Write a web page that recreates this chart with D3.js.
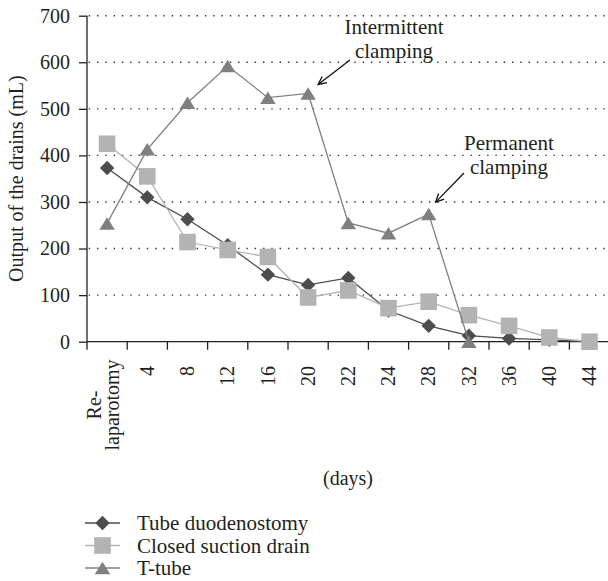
<!DOCTYPE html>
<html>
<head>
<meta charset="utf-8">
<script src="https://cdn.jsdelivr.net/npm/d3@7"></script>
<style>
  body { margin: 0; background: #fff; }
  svg { display: block; }
  text { font-family: "Liberation Serif", "Times New Roman", serif; fill: #231f20; }
</style>
</head>
<body>
<svg id="chart" width="608" height="581"></svg>
<script>
// drain output per day
const categories = ['Re-laparotomy', '4', '8', '12', '16', '20', '22', '24', '28', '32', '36', '40', '44'];
const tubeDuodenostomy = [373, 310, 263, 207, 144, 122, 137, 67, 34, 13, 7, 4, 0];
const closedSuctionDrain = [425, 355, 214, 197, 182, 95, 110, 72, 86, 57, 34, 9, 0];
const tTube = [254, 413, 513, 592, 524, 533, 255, 233, 274, 0]; // stops at day 32
const yTicks = [0, 100, 200, 300, 400, 500, 600, 700];
const seriesNames = ['Tube duodenostomy', 'Closed suction drain', 'T-tube'];

const svg = d3.select('#chart');
const ink = '#231f20';

const x = d3.scaleBand()
  .domain(categories)
  .range([87, 87 + 13 * 40.2])
  .padding(0);
const y = d3.scaleLinear()
  .domain([0, 700])
  .range([341.7, 15.7]);
const cx = c => x(c) + x.bandwidth() / 2;

// dotted gridlines
svg.append('g')
  .selectAll('line')
  .data(yTicks.filter(d => d > 0))
  .join('line')
  .attr('x1', 87).attr('x2', 608)
  .attr('y1', d => y(d)).attr('y2', d => y(d))
  .attr('stroke', '#333')
  .attr('stroke-width', 1.4)
  .attr('stroke-dasharray', '1.4 6.9')
  .attr('stroke-dashoffset', -10);

// y axis
const yAxis = svg.append('g')
  .attr('transform', 'translate(87,0)')
  .call(d3.axisLeft(y).tickValues(yTicks).tickSize(8).tickPadding(9));
yAxis.select('.domain').attr('stroke', ink).attr('stroke-width', 1.3).attr('d', `M0,${y(700)}V${y(0) + 8}`);
yAxis.selectAll('.tick line').attr('stroke', ink).attr('stroke-width', 1.3);
yAxis.selectAll('.tick text')
  .style('font-family', '"Liberation Serif", serif')
  .style('font-size', '20px')
  .attr('fill', ink);

// x axis: ticks sit on the band edges
const xAxis = svg.append('g');
xAxis.append('line')
  .attr('x1', x.range()[0]).attr('x2', x.range()[1])
  .attr('y1', y(0)).attr('y2', y(0))
  .attr('stroke', ink).attr('stroke-width', 1.3);
xAxis.selectAll('line.tk')
  .data(categories.slice(1))
  .join('line')
  .attr('class', 'tk')
  .attr('x1', d => x(d)).attr('x2', d => x(d))
  .attr('y1', y(0)).attr('y2', y(0) + 8)
  .attr('stroke', ink).attr('stroke-width', 1.3);

xAxis.selectAll('text.lbl')
  .data(categories.slice(1))
  .join('text')
  .attr('class', 'lbl')
  .attr('transform', d => `translate(${cx(d)},366) rotate(-90)`)
  .attr('text-anchor', 'end')
  .attr('dy', '0.33em')
  .style('font-size', '20px')
  .text(d => d);

// first category label is split over two lines
const first = categories[0].split(/(?<=-)/);
const firstLbl = xAxis.append('text')
  .attr('transform', `translate(${cx(categories[0])},405) rotate(-90)`)
  .attr('text-anchor', 'middle')
  .style('font-size', '20px');
firstLbl.selectAll('tspan')
  .data(first)
  .join('tspan')
  .attr('x', 0)
  .attr('y', (d, i) => i === 0 ? -6 : 12)
  .text(d => d);

// axis titles
svg.append('text')
  .attr('transform', `translate(23,${(y(0) + y(700)) / 2}) rotate(-90)`)
  .attr('text-anchor', 'middle')
  .style('font-size', '20px')
  .text('Output of the drains (mL)');

svg.append('text')
  .attr('x', 348).attr('y', 485)
  .attr('text-anchor', 'middle')
  .style('font-size', '20px')
  .text('(days)');

// markers
const diamondPath = s => `M0,${-s}L${s},0L0,${s}L${-s},0Z`;
const squarePath = s => `M${-s},${-s}H${s}V${s}H${-s}Z`;
const trianglePath = (w, h) => `M0,${-h / 2}L${w / 2},${h / 2}L${-w / 2},${h / 2}Z`;

const series = [
  { name: seriesNames[0], values: tubeDuodenostomy, color: '#4d4d4d', line: '#4d4d4d', shape: diamondPath(7.2) },
  { name: seriesNames[1], values: closedSuctionDrain, color: '#b3b3b3', line: '#b3b3b3', shape: squarePath(8.3) },
  { name: seriesNames[2], values: tTube, color: '#7f7f7f', line: '#808080', shape: trianglePath(15.5, 12.5) }
];

const line = d3.line()
  .x(d => cx(d.cat))
  .y(d => y(d.v));

series.forEach(s => {
  const pts = s.values.map((v, i) => ({ cat: categories[i], v }));
  const g = svg.append('g');
  g.append('path')
    .datum(pts)
    .attr('d', line)
    .attr('fill', 'none')
    .attr('stroke', s.line)
    .attr('stroke-width', 1.3);
  g.selectAll('path.mk')
    .data(pts)
    .join('path')
    .attr('class', 'mk')
    .attr('transform', d => `translate(${cx(d.cat)},${y(d.v)})`)
    .attr('d', s.shape)
    .attr('fill', s.color);
});

// annotations with open arrowheads
const arrow = (x1, y1, x2, y2) => {
  const a = Math.atan2(y2 - y1, x2 - x1);
  const len = 9, spread = 0.45;
  const g = svg.append('g').attr('stroke', '#111').attr('stroke-width', 1.3).attr('fill', 'none');
  g.append('line').attr('x1', x1).attr('y1', y1).attr('x2', x2).attr('y2', y2);
  g.append('path').attr('d',
    `M${x2 - len * Math.cos(a - spread)},${y2 - len * Math.sin(a - spread)}` +
    `L${x2},${y2}` +
    `L${x2 - len * Math.cos(a + spread)},${y2 - len * Math.sin(a + spread)}`);
};

const notes = [
  { lines: ['Intermittent', 'clamping'], cat: '20', v: tTube[5], tx: 394, ty: 34, from: [350, 60], off: [10, -9] },
  { lines: ['Permanent', 'clamping'], cat: '28', v: tTube[8], tx: 509, ty: 150, from: [464, 173], off: [7, -12] }
];
notes.forEach(n => {
  const t = svg.append('text')
    .attr('text-anchor', 'middle')
    .style('font-size', '21px');
  t.selectAll('tspan')
    .data(n.lines)
    .join('tspan')
    .attr('x', n.tx)
    .attr('y', (d, i) => n.ty + i * 24)
    .text(d => d);
  arrow(n.from[0], n.from[1], cx(n.cat) + n.off[0], y(n.v) + n.off[1]);
});

// legend
const legend = svg.append('g')
  .selectAll('g')
  .data(series)
  .join('g')
  .attr('transform', (d, i) => `translate(0,${523 + i * 22.5})`);
legend.append('line')
  .attr('x1', 85).attr('x2', 120)
  .attr('stroke', d => d.line)
  .attr('stroke-width', 1.3);
legend.append('path')
  .attr('transform', 'translate(102.5,0)')
  .attr('d', d => d.shape)
  .attr('fill', d => d.color);
legend.append('text')
  .attr('x', 137).attr('y', 7)
  .style('font-size', '21px')
  .text(d => d.name);
</script>
</body>
</html>
